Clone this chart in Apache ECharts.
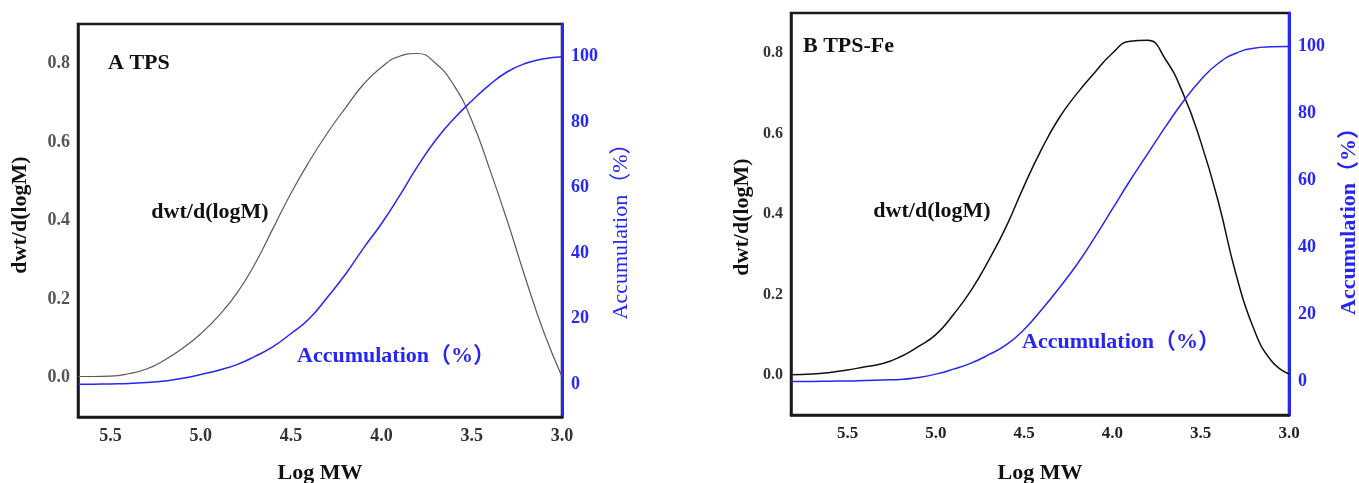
<!DOCTYPE html>
<html>
<head>
<meta charset="utf-8">
<script src="https://cdn.jsdelivr.net/npm/echarts@6/dist/echarts.min.js"></script>
<style>
  html, body { margin: 0; padding: 0; background: #fff; }
  #chart { width: 1359px; height: 483px; }
</style>
</head>
<body>
<div id="chart"></div>
<script>
// panel A (TPS): log MW, dwt/d(logM), accumulation %
const logMwA = [5.68, 5.6, 5.5, 5.4, 5.3, 5.2, 5.1, 5.0, 4.9, 4.8, 4.7, 4.6, 4.5, 4.4, 4.3, 4.2, 4.1, 4.0, 3.9, 3.8, 3.7, 3.6, 3.5, 3.4, 3.3, 3.2, 3.1, 3.0]
const dwtA = [0.003, 0.003, 0.004, 0.01, 0.022, 0.045, 0.075, 0.112, 0.158, 0.215, 0.29, 0.38, 0.47, 0.55, 0.622, 0.686, 0.746, 0.79, 0.818, 0.825, 0.80, 0.745, 0.655, 0.53, 0.395, 0.25, 0.115, 0.003]
const accA = [0, 0, 0.1, 0.2, 0.5, 1.0, 1.8, 3.0, 4.3, 6.0, 8.5, 11.5, 15.5, 20, 26.5, 33.5, 41.5, 49, 57.5, 66.5, 74.5, 81, 86.5, 91.5, 95.5, 98, 99.4, 100]

// panel B (TPS-Fe)
const logMwB = [5.82, 5.7, 5.6, 5.5, 5.4, 5.3, 5.2, 5.1, 5.0, 4.9, 4.8, 4.7, 4.6, 4.5, 4.4, 4.3, 4.2, 4.1, 4.0, 3.9, 3.8, 3.7, 3.6, 3.5, 3.4, 3.3, 3.2, 3.1, 3.0]
const dwtB = [0.0, 0.002, 0.006, 0.012, 0.02, 0.028, 0.045, 0.07, 0.10, 0.15, 0.21, 0.285, 0.37, 0.47, 0.562, 0.64, 0.70, 0.752, 0.80, 0.83, 0.832, 0.785, 0.70, 0.58, 0.43, 0.25, 0.115, 0.035, 0.002]
const accB = [0, 0, 0.1, 0.15, 0.3, 0.45, 0.6, 1.2, 2.2, 3.7, 5.5, 8, 11, 15.5, 21.5, 28, 35, 43, 51.5, 60, 68, 76, 83.5, 90, 95, 98, 99.5, 99.9, 100]

const xTicks = [3.0, 3.5, 4.0, 4.5, 5.0, 5.5]
const dwtTicks = [0, 0.2, 0.4, 0.6, 0.8]
const accTicks = [0, 20, 40, 60, 80, 100]

const SERIF = '"Liberation Serif", "Noto Sans CJK SC", serif'
const BLUE = '#2626f5'

const pairs = (xs, ys) => xs.map((x, i) => [x, ys[i]])

const xAxisCfg = (idx, max, size, color, gap) => ({
  type: 'value',
  gridIndex: idx,
  position: 'bottom',
  inverse: true,
  min: 3.0,
  max: max,
  name: 'Log MW',
  nameLocation: 'middle',
  nameGap: gap,
  nameTextStyle: { fontFamily: SERIF, fontWeight: 'bold', fontSize: 22, color: '#111' },
  axisLine: { onZero: false, lineStyle: { color: '#1a1a1a', width: 2.5 } },
  axisTick: { show: false },
  splitLine: { show: false },
  axisLabel: {
    customValues: xTicks,
    formatter: v => v.toFixed(1),
    fontFamily: SERIF, fontWeight: 'bold', fontSize: size, color: color, margin: 10
  }
})

const dwtAxisCfg = (idx, size, color) => ({
  type: 'value',
  gridIndex: idx,
  position: 'left',
  min: -0.1,
  max: 0.9,
  axisLine: { show: true, onZero: false, lineStyle: { color: '#1a1a1a', width: 2.5 } },
  axisTick: { show: false },
  splitLine: { show: false },
  axisLabel: {
    customValues: dwtTicks,
    formatter: v => v.toFixed(1),
    fontFamily: SERIF, fontWeight: 'bold', fontSize: size, color: color, margin: 8
  }
})

const accAxisCfg = (idx, size) => ({
  type: 'value',
  gridIndex: idx,
  position: 'right',
  min: -10,
  max: 110,
  axisLine: { show: true, onZero: false, lineStyle: { color: BLUE, width: 3 } },
  axisTick: { show: false },
  splitLine: { show: false },
  axisLabel: {
    customValues: accTicks,
    formatter: v => String(Math.round(v)),
    fontFamily: SERIF, fontWeight: 'bold', fontSize: size, color: BLUE, margin: 9
  }
})

const txt = (x, y, text, opts) => ({
  type: 'text',
  x: x,
  y: y,
  rotation: opts.rotation || 0,
  style: {
    text: text,
    font: (opts.weight || 'bold') + ' ' + opts.size + 'px ' + SERIF,
    fill: opts.color || '#111',
    align: opts.align || 'center',
    verticalAlign: 'middle',
    textAlign: opts.align || 'center',
    textVerticalAlign: 'middle'
  }
})

const chart = echarts.init(document.getElementById('chart'))

chart.setOption({
  backgroundColor: '#fff',
  animation: false,
  grid: [
    { left: 78, top: 24, width: 484, height: 393, outerBoundsMode: 'none', show: true, borderColor: '#1a1a1a', borderWidth: 2.5, backgroundColor: 'transparent' },
    { left: 791, top: 13, width: 498, height: 402, outerBoundsMode: 'none', show: true, borderColor: '#1a1a1a', borderWidth: 2.5, backgroundColor: 'transparent' }
  ],
  xAxis: [
    xAxisCfg(0, 5.68, 18, '#333', 45),
    xAxisCfg(1, 5.82, 17, '#222', 47)
  ],
  yAxis: [
    dwtAxisCfg(0, 18, '#555'),
    accAxisCfg(0, 18),
    dwtAxisCfg(1, 16, '#333'),
    accAxisCfg(1, 18)
  ],
  series: [
    {
      name: 'dwt/d(logM) A', type: 'line', xAxisIndex: 0, yAxisIndex: 0,
      data: pairs(logMwA, dwtA), showSymbol: false, smooth: 0.5,
      lineStyle: { color: '#5a5a5a', width: 1.2 }
    },
    {
      name: 'Accumulation A', type: 'line', xAxisIndex: 0, yAxisIndex: 1,
      data: pairs(logMwA, accA), showSymbol: false, smooth: 0.5,
      lineStyle: { color: BLUE, width: 1.5 }
    },
    {
      name: 'dwt/d(logM) B', type: 'line', xAxisIndex: 1, yAxisIndex: 2,
      data: pairs(logMwB, dwtB), showSymbol: false, smooth: 0.5,
      lineStyle: { color: '#111', width: 1.5 }
    },
    {
      name: 'Accumulation B', type: 'line', xAxisIndex: 1, yAxisIndex: 3,
      data: pairs(logMwB, accB), showSymbol: false, smooth: 0.5,
      lineStyle: { color: BLUE, width: 1.5 }
    }
  ],
  graphic: [
    // panel A
    txt(108, 63, 'A TPS', { size: 22, align: 'left' }),
    txt(210, 212, 'dwt/d(logM)', { size: 22 }),
    txt(297, 356, 'Accumulation（%）', { size: 22, align: 'left', color: BLUE }),
    txt(20, 215, 'dwt/d(logM)', { size: 22, rotation: Math.PI / 2 }),
    txt(621, 226, 'Accumulation（%）', { size: 22, weight: 'normal', color: BLUE, rotation: Math.PI / 2 }),
    // panel B
    txt(803, 46, 'B TPS-Fe', { size: 22, align: 'left' }),
    txt(932, 211, 'dwt/d(logM)', { size: 22 }),
    txt(1022, 342, 'Accumulation（%）', { size: 22, align: 'left', color: BLUE }),
    txt(742, 217, 'dwt/d(logM)', { size: 22, rotation: Math.PI / 2 }),
    txt(1349, 216, 'Accumulation（%）', { size: 22, color: BLUE, rotation: Math.PI / 2 })
  ]
})

window.addEventListener('resize', () => chart.resize())
</script>
</body>
</html>
